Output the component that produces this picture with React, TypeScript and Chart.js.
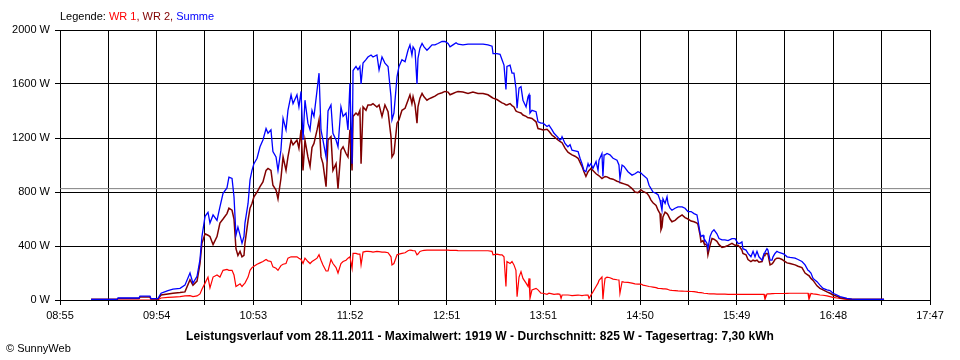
import React, { useEffect, useRef } from 'react';
import { Chart, registerables } from 'chart.js';

Chart.register(...registerables);

// Tick labels of the time axis (labelled every second grid line)
const xTickLabels = ['08:55', '09:54', '10:53', '11:52', '12:51', '13:51', '14:50', '15:49', '16:48', '17:47'];
const yMax = 2000;
const yStep = 400;

// Sample times, minutes after midnight
const minuteOfDay = [
  554.0, 569.9, 570.5, 583.3, 583.9, 590.0, 590.6, 594.9, 596.8, 601.0,
  604.1, 608.4, 611.4, 614.5, 616.3, 618.8, 620.6, 621.8, 623.7, 625.5,
  626.7, 628.6, 631.0, 632.8, 634.7, 637.1, 638.3, 640.2, 641.4, 642.6,
  643.8, 645.1, 646.3, 647.5, 648.1, 650.0, 651.2, 652.4, 653.6, 655.5,
  657.3, 659.1, 661.0, 662.2, 664.0, 665.2, 667.1, 668.3, 670.1, 671.4,
  673.2, 674.4, 676.3, 677.5, 679.9, 681.1, 682.4, 683.6, 684.8, 686.6,
  687.9, 689.1, 690.3, 692.2, 693.4, 694.6, 695.8, 697.7, 698.9, 700.7,
  701.9, 703.8, 705.0, 706.8, 708.1, 709.9, 711.1, 712.3, 713.6, 714.2,
  716.0, 717.2, 718.4, 719.1, 720.3, 722.1, 723.3, 725.2, 726.4, 728.8,
  730.1, 731.9, 733.7, 735.6, 737.4, 738.0, 739.2, 741.1, 742.3, 744.1,
  746.0, 747.8, 749.0, 750.2, 750.9, 752.1, 753.3, 753.9, 755.1, 756.4,
  757.6, 759.4, 760.6, 762.5, 764.3, 766.1, 768.6, 770.4, 772.3, 773.5,
  775.3, 777.2, 778.4, 781.4, 784.5, 787.5, 790.6, 793.7, 796.7, 799.2,
  799.8, 802.2, 804.1, 805.3, 806.5, 807.7, 808.3, 810.2, 811.4, 812.6,
  813.8, 814.5, 815.7, 816.9, 818.1, 820.0, 821.2, 821.8, 822.4, 823.6,
  826.1, 827.3, 829.1, 830.4, 832.8, 834.0, 835.9, 837.1, 839.5, 840.7,
  841.4, 842.0, 843.8, 845.6, 846.9, 848.1, 849.9, 851.8, 853.0, 854.2,
  855.4, 856.6, 857.9, 858.5, 859.7, 860.9, 862.8, 864.0, 864.6, 866.4,
  867.0, 867.7, 868.3, 869.5, 871.3, 873.2, 875.6, 876.8, 877.4, 878.7,
  879.9, 882.3, 884.8, 886.6, 888.4, 890.3, 891.5, 894.0, 895.2, 896.4,
  897.6, 899.5, 900.7, 901.9, 902.5, 903.1, 903.7, 905.0, 906.2, 906.8,
  908.0, 909.2, 911.1, 912.9, 915.4, 917.2, 919.0, 920.9, 922.7, 924.5,
  925.1, 926.4, 927.0, 928.2, 928.8, 930.6, 931.2, 932.5, 933.7, 934.9,
  936.7, 938.0, 939.8, 941.6, 943.5, 945.9, 947.8, 949.6, 950.8, 952.0,
  952.6, 954.5, 955.7, 957.5, 958.8, 960.0, 961.2, 962.4, 964.3, 965.5,
  966.1, 967.3, 967.9, 969.2, 970.4, 971.0, 972.2, 973.4, 974.7, 976.5,
  977.7, 979.6, 981.4, 984.5, 986.3, 988.7, 990.6, 992.4, 993.0, 994.2,
  995.5, 997.9, 999.7, 1001.6, 1004.0, 1005.9, 1007.7, 1010.1, 1012.0, 1013.8,
  1016.2, 1019.3, 1023.0, 1038.9,
];

// Summe (blue), W
const summe = [
  5, 5, 15, 15, 28, 28, 10, 10, 50, 70,
  80, 86, 110, 200, 125, 175, 300, 470, 620, 650,
  570, 630, 590, 690, 790, 830, 910, 900, 765, 480,
  540, 480, 420, 470, 570, 715, 890, 960, 1010, 1050,
  1135, 1185, 1270, 1235, 1260, 1100, 1060, 960, 1110, 1345,
  1260, 1405, 1520, 1455, 1520, 1430, 1545, 1185, 1480, 1310,
  1260, 1405, 1360, 1555, 1680, 1260, 1185, 1060, 1400, 1445,
  1235, 1185, 1135, 1430, 1360, 1385, 1260, 1605, 1010, 1700,
  1730, 1705, 1730, 1600, 1755, 1780, 1800, 1815, 1800, 1815,
  1705, 1800, 1755, 1730, 1505, 1335, 1385, 1655, 1730, 1780,
  1765, 1850, 1890, 1815, 1875, 1850, 1600, 1790, 1865, 1900,
  1875, 1850, 1865, 1890, 1890, 1900, 1915, 1915, 1900, 1875,
  1890, 1905, 1895, 1890, 1895, 1895, 1895, 1895, 1890, 1880,
  1825, 1825, 1820, 1780, 1740, 1560, 1730, 1740, 1680, 1680,
  1570, 1420, 1570, 1580, 1480, 1430, 1505, 1520, 1385, 1405,
  1395, 1320, 1310, 1310, 1285, 1295, 1260, 1235, 1205, 1185,
  1190, 1210, 1160, 1135, 1150, 1110, 1105, 1100, 1050, 1010,
  960, 950, 1010, 990, 1010, 975, 1025, 960, 1035, 1085,
  915, 1075, 1075, 1085, 1075, 1050, 1035, 1000, 900, 1000,
  990, 950, 925, 935, 950, 940, 925, 900, 850, 825,
  800, 790, 780, 740, 700, 665, 750, 715, 765, 715,
  680, 665, 680, 690, 690, 680, 655, 655, 640, 630,
  590, 495, 470, 480, 455, 420, 380, 470, 505, 520,
  490, 455, 445, 445, 440, 455, 455, 420, 420, 430,
  380, 370, 345, 320, 360, 320, 360, 320, 295, 345,
  355, 380, 370, 295, 295, 320, 345, 360, 352, 345,
  340, 320, 315, 310, 300, 285, 260, 220, 215, 200,
  160, 136, 110, 86, 75, 70, 50, 37, 25, 20,
  12, 7, 5, 5,
];

// WR 2 (dark red), W
const wr2 = [
  5, 5, 12, 12, 22, 22, 8, 8, 37, 45,
  50, 55, 60, 150, 110, 140, 270, 420, 490, 480,
  470, 410, 470, 570, 600, 640, 680, 665, 600, 380,
  330, 360, 320, 330, 420, 590, 680, 715, 765, 800,
  840, 875, 960, 975, 960, 850, 815, 750, 900, 1060,
  960, 1060, 1185, 1150, 1185, 1125, 1260, 960, 1185, 1060,
  990, 1130, 1160, 1260, 1335, 1060, 1010, 840, 1185, 1210,
  960, 1010, 825, 1110, 1135, 1085, 1060, 1260, 960, 1360,
  1385, 1370, 1405, 1010, 1430, 1405, 1445, 1445, 1455, 1430,
  1445, 1360, 1445, 1395, 1210, 1060, 1085, 1310, 1335, 1405,
  1420, 1480, 1520, 1455, 1505, 1445, 1310, 1430, 1495, 1530,
  1505, 1480, 1490, 1500, 1510, 1525, 1535, 1545, 1540, 1520,
  1530, 1540, 1545, 1540, 1530, 1540, 1530, 1530, 1520, 1500,
  1495, 1485, 1470, 1460, 1455, 1445, 1445, 1455, 1440, 1430,
  1400, 1395, 1390, 1385, 1370, 1360, 1350, 1350, 1350, 1345,
  1320, 1270, 1265, 1260, 1265, 1250, 1220, 1210, 1185, 1175,
  1170, 1165, 1125, 1095, 1085, 1075, 1065, 1050, 1020, 990,
  950, 915, 950, 960, 975, 960, 935, 925, 920, 900,
  905, 910, 915, 912, 900, 895, 880, 875, 870, 865,
  860, 850, 825, 800, 795, 815, 805, 790, 770, 740,
  720, 700, 665, 640, 520, 540, 615, 650, 640, 630,
  600, 580, 590, 610, 630, 610, 600, 585, 580, 570,
  560, 480, 430, 440, 420, 405, 335, 405, 455, 450,
  435, 410, 390, 395, 405, 420, 405, 405, 390, 370,
  345, 335, 300, 285, 295, 290, 295, 280, 285, 330,
  340, 345, 340, 260, 268, 275, 300, 310, 310, 300,
  290, 275, 270, 260, 250, 240, 200, 185, 180, 160,
  145, 105, 86, 75, 60, 50, 37, 28, 17, 13,
  10, 5, 5, 5,
];

// WR 1 (red), W
const wr1 = [
  0, 0, 0, 0, 0, 0, 0, 2, 15, 20,
  22, 25, 30, 32, 25, 30, 45, 80, 125, 170,
  90, 170, 185, 170, 220, 227, 220, 220, 185, 100,
  110, 120, 100, 118, 125, 170, 220, 240, 250, 265,
  275, 285, 300, 290, 285, 245, 235, 220, 255, 265,
  270, 310, 320, 320, 320, 310, 300, 270, 310, 285,
  270, 285, 295, 310, 335, 295, 260, 215, 215, 300,
  270, 240, 200, 270, 285, 295, 310, 320, 235, 345,
  345, 340, 340, 260, 355, 360, 360, 358, 355, 360,
  358, 355, 355, 350, 320, 260, 270, 335, 340, 345,
  350, 365, 370, 368, 365, 365, 335, 340, 360, 365,
  368, 370, 370, 370, 370, 370, 370, 370, 370, 368,
  368, 367, 366, 365, 365, 365, 365, 365, 365, 360,
  335, 340, 335, 335, 320, 100, 285, 270, 285, 260,
  220, 25, 170, 210, 160, 125, 100, 160, 12, 75,
  86, 75, 50, 50, 42, 50, 45, 42, 45, 42,
  12, 37, 37, 37, 35, 32, 34, 36, 35, 32,
  35, 36, 37, 12, 37, 60, 100, 125, 145, 170,
  5, 100, 160, 170, 165, 155, 150, 148, 50, 136,
  133, 130, 125, 120, 118, 118, 110, 104, 100, 98,
  96, 92, 86, 85, 84, 84, 83, 82, 80, 78,
  72, 71, 70, 68, 66, 65, 64, 63, 62, 58,
  56, 55, 54, 52, 50, 48, 47, 46, 45, 45,
  44, 44, 43, 43, 42, 42, 42, 42, 42, 42,
  42, 42, 42, 42, 42, 42, 42, 42, 42, 42,
  5, 45, 46, 46, 47, 47, 48, 48, 48, 48,
  48, 49, 50, 50, 50, 50, 50, 50, 5, 48,
  45, 42, 37, 35, 30, 25, 20, 15, 12, 8,
  5, 2, 0, 0,
];

const durchschnitt = 825;
const maximalwert = 1919;
const tagesertrag = '7,30';
const datum = '28.11.2011';

const FONT = '"Liberation Sans", Arial, sans-serif';

function toMinutes(s: string) {
  const [h, m] = s.split(':').map(Number);
  return h * 60 + m;
}

export default function App() {
  const ref = useRef<HTMLCanvasElement | null>(null);

  useEffect(() => {
    if (!ref.current) return;
    const xMin = toMinutes(xTickLabels[0]);
    const xMax = toMinutes(xTickLabels[xTickLabels.length - 1]);
    const gridCount = (xTickLabels.length - 1) * 2;
    const pts = (vals: number[]) => minuteOfDay.map((t, i) => ({ x: t, y: vals[i] }));

    const chart = new Chart(ref.current, {
      type: 'line',
      data: {
        datasets: [
          { label: 'Summe', data: pts(summe), borderColor: '#0000ff', borderWidth: 1.3, order: 0 },
          { label: 'WR 2', data: pts(wr2), borderColor: '#800000', borderWidth: 1.5, order: 1 },
          { label: 'WR 1', data: pts(wr1), borderColor: '#ff0000', borderWidth: 1.2, order: 2 },
          {
            label: 'Durchschnitt',
            data: [{ x: xMin, y: durchschnitt }, { x: xMax, y: durchschnitt }],
            borderColor: '#808080',
            borderWidth: 1,
            order: 3,
          },
        ],
      },
      options: {
        responsive: false,
        maintainAspectRatio: false,
        animation: false,
        devicePixelRatio: 1,
        layout: { padding: { top: 30, right: 30, left: 0, bottom: 0 } },
        elements: { point: { radius: 0 }, line: { tension: 0 } },
        plugins: { legend: { display: false }, tooltip: { enabled: false }, title: { display: false } },
        scales: {
          x: {
            type: 'linear',
            min: xMin,
            max: xMax,
            afterBuildTicks: (scale: any) => {
              scale.ticks = Array.from({ length: gridCount + 1 }, (_, i) => ({
                value: xMin + (i * (xMax - xMin)) / gridCount,
              }));
            },
            afterFit: (scale: any) => {
              scale.height = 60;
            },
            grid: { color: '#000', lineWidth: 1, tickLength: 5, drawTicks: true },
            border: { display: true, color: '#000', width: 1 },
            ticks: {
              autoSkip: false,
              maxRotation: 0,
              padding: 4,
              color: '#000',
              font: { family: FONT, size: 11 },
              callback: (_v: any, index: number) => (index % 2 === 0 ? xTickLabels[index / 2] : ''),
            },
          },
          y: {
            min: 0,
            max: yMax,
            afterFit: (scale: any) => {
              scale.width = 60;
            },
            grid: { color: '#000', lineWidth: 1, tickLength: 5, drawTicks: true },
            border: { display: true, color: '#000', width: 1 },
            ticks: {
              stepSize: yStep,
              padding: 5,
              color: '#000',
              font: { family: FONT, size: 11 },
              callback: (v: any) => `${v} W`,
            },
          },
        },
      },
    } as any);
    return () => chart.destroy();
  }, []);

  const avg = durchschnitt;
  return (
    <div
      style={{
        position: 'absolute',
        left: 0,
        top: 0,
        width: 960,
        height: 360,
        background: '#fff',
        fontFamily: FONT,
        color: '#000',
      }}
    >
      <canvas ref={ref} width={960} height={360} style={{ display: 'block', position: 'absolute', left: 0, top: 0 }} />
      <div style={{ position: 'absolute', left: 60, top: 10, fontSize: 11, lineHeight: '13px', whiteSpace: 'nowrap' }}>
        Legende: <span style={{ color: '#ff0000' }}>WR 1</span>
        <span style={{ color: '#800000' }}>, WR 2, </span>
        <span style={{ color: '#0000ff' }}>Summe</span>
      </div>
      <div
        style={{
          position: 'absolute',
          left: 0,
          width: 960,
          top: 329,
          textAlign: 'center',
          fontSize: 12,
          fontWeight: 'bold',
          lineHeight: '14px',
          letterSpacing: '0.06px',
          whiteSpace: 'nowrap',
        }}
      >
        {`Leistungsverlauf vom ${datum} - Maximalwert: ${maximalwert} W - Durchschnitt: ${avg} W - Tagesertrag: ${tagesertrag} kWh`}
      </div>
      <div style={{ position: 'absolute', left: 6, top: 342, fontSize: 11, lineHeight: '13px', whiteSpace: 'nowrap' }}>
        © SunnyWeb
      </div>
    </div>
  );
}
